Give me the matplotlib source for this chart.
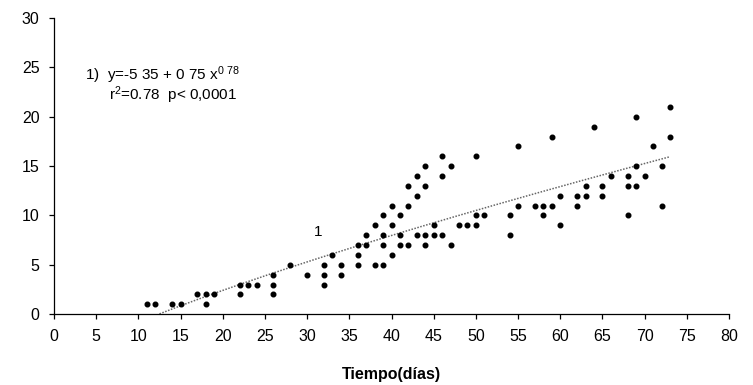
import numpy as np
import matplotlib
matplotlib.use('Agg')
import matplotlib.pyplot as plt

plt.rcParams['font.family'] = ['Liberation Sans', 'DejaVu Sans']
plt.rcParams['mathtext.default'] = 'regular'

# datos
dias = [11, 12, 14, 15, 17, 18, 18, 19, 22, 22, 23, 24, 26, 26, 26, 28, 30,
        32, 32, 32, 33, 34, 34, 36, 36, 36, 37, 37, 38, 38, 39, 39, 39, 39,
        40, 40, 40, 41, 41, 41, 42, 42, 42, 43, 43, 43, 44, 44, 44, 44, 45, 45,
        46, 46, 46, 47, 47, 48, 49, 50, 50, 50, 51, 54, 54, 55, 55, 57, 58, 58,
        59, 59, 60, 60, 62, 62, 63, 63, 64, 65, 65, 66, 68, 68, 68, 69, 69, 69,
        70, 71, 72, 72, 73, 73]
valores = [1, 1, 1, 1, 2, 2, 1, 2, 3, 2, 3, 3, 4, 3, 2, 5, 4,
           5, 4, 3, 6, 5, 4, 7, 6, 5, 8, 7, 9, 5, 10, 8, 7, 5,
           11, 9, 6, 10, 8, 7, 13, 11, 7, 14, 12, 8, 15, 13, 8, 7, 9, 8,
           16, 14, 8, 15, 7, 9, 9, 16, 10, 9, 10, 10, 8, 17, 11, 11, 11, 10,
           18, 11, 12, 9, 12, 11, 13, 12, 19, 13, 12, 14, 14, 13, 10, 20, 15, 13,
           14, 17, 15, 11, 21, 18]

# ajuste: y = -5.35 + 0.75 x^0.78
a, b, c = -5.35, 0.75, 0.78
x_fit = np.linspace(12.5, 73, 200)
y_fit = a + b * x_fit ** c

fig = plt.figure(figsize=(7.53, 3.85), dpi=100)
ax = fig.add_axes([0.0717, 0.184, 0.8965, 0.769])

ax.plot(x_fit, y_fit, color='0.4', lw=1.1, linestyle=(0, (1, 1)))
ax.scatter(dias, valores, s=11, color='black', marker='o', zorder=3)

ax.set_xlim(0, 80)
ax.set_ylim(0, 30)
ax.set_xticks(range(0, 81, 5))
ax.set_yticks(range(0, 31, 5))
ax.spines['top'].set_visible(False)
ax.spines['right'].set_visible(False)
for s in ['left', 'bottom']:
    ax.spines[s].set_linewidth(0.9)
ax.tick_params(axis='both', direction='out', length=3.5, width=0.9,
               labelsize=11.5, pad=7)

ax.set_xlabel('Tiempo(días)', fontsize=11.5, fontweight='bold', labelpad=17)

ax.text(3.67, 23.7, '1)  y=-5 35 + 0 75 x$^{0\\ 78}$', fontsize=11)
ax.text(6.5, 21.7, 'r$^{2}$=0.78  p< 0,0001', fontsize=11)
ax.text(30.8, 7.9, '1', fontsize=11)

fig.savefig('out.png', dpi=100)
